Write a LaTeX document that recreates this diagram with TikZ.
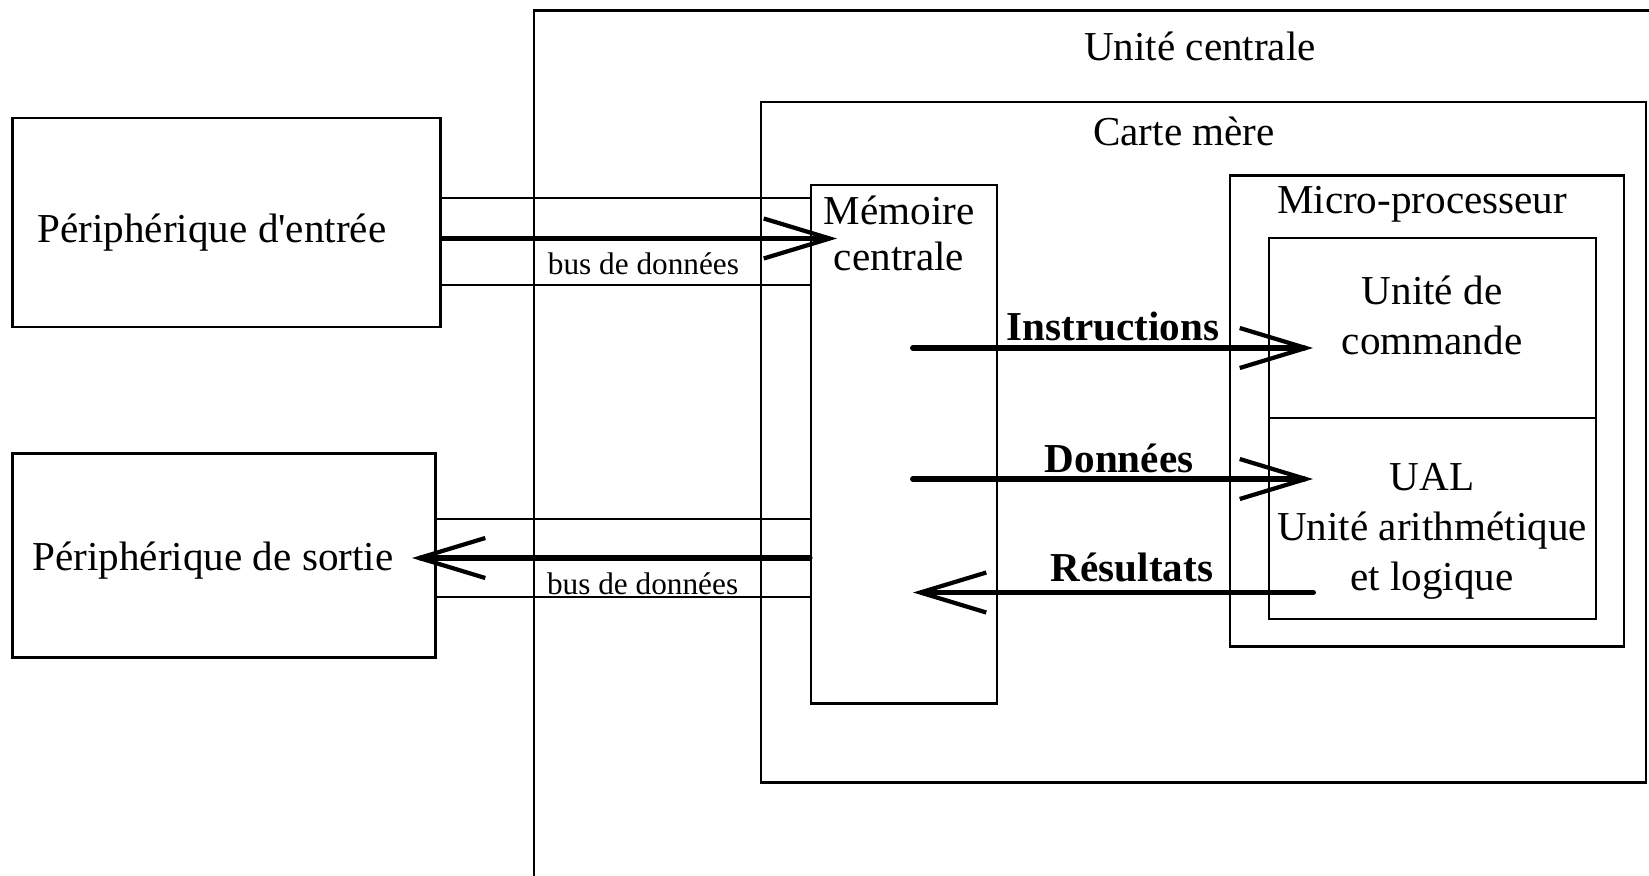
\documentclass[tikz,border=0pt]{standalone}
\usepackage{fontspec}
\setmainfont{Liberation Serif}
\usetikzlibrary{arrows.meta, positioning, calc}

\begin{document}
\begin{tikzpicture}[
  every node/.style={font=\fontsize{11.7}{14.2}\selectfont},
  box/.style={rectangle, draw, line width=0.8pt, inner sep=0pt},
  unit/.style={rectangle, draw, line width=0.6pt, inner sep=0pt},
  bus/.style={line width=0.6pt},
  flow/.style={line width=1.7pt, line cap=round, -{Straight Barb[length=6.6mm,width=4mm,line width=1.2pt]}},
  lbl/.style={inner sep=0pt, align=center},
  small/.style={font=\fontsize{8.9}{10.7}\selectfont},
  bold/.style={font=\fontsize{11.7}{14.2}\selectfont\bfseries},
]
  \useasboundingbox (0,0) rectangle (16.49,-8.75);
  \clip (0,0) rectangle (16.49,-8.75);

  % containers
  \node[box,minimum width=13.3cm,minimum height=9.395cm] (UC) at (11.99,-4.8025) {};
  \node[box,minimum width=8.85cm,minimum height=6.805cm] (CM) at (12.035,-4.4225) {};
  \node[box,minimum width=1.86cm,minimum height=5.186cm] (MEM) at (9.04,-4.443) {};
  \node[box,minimum width=3.94cm,minimum height=4.71cm] (MP) at (14.27,-4.11) {};
  \node[unit,minimum width=3.27cm,minimum height=1.80cm] (UCMD) at (14.325,-3.28) {};
  \node[unit,minimum width=3.27cm,minimum height=2.01cm] (UAL) at (14.325,-5.185) {};

  % peripheriques
  \node[box,minimum width=4.28cm,minimum height=2.09cm] (IN) at (2.266,-2.225) {};
  \node[box,minimum width=4.228cm,minimum height=2.04cm] (OUT) at (2.24,-5.553) {};

  % titles
  \node[lbl] (INtxt) at (2.12,-2.33) {Périphérique d\textquotesingle entrée};
  \node[lbl] (OUTtxt) at (2.13,-5.61) {Périphérique de sortie};
  \node[lbl] (UCtxt) at (12.00,-0.46) {Unité centrale};
  \node[lbl] (CMtxt) at (11.84,-1.315) {Carte mère};
  \node[lbl] (MPtxt) at (14.22,-2.04) {Micro-processeur};
  \node[lbl] (MEMtxt) at (8.99,-2.335) {Mémoire\\[-1pt]centrale};
  \node[lbl] (UCMDtxt) at (14.32,-3.15) {Unité de\\commande};
  \node[lbl] (UALtxt) at (14.32,-5.31) {UAL\\Unité arithmétique\\et logique};

  % bus d'entree
  \coordinate (inTip) at (8.37,-2.385);
  \draw[bus] (IN.east |- 0,-1.98) -- (MEM.west |- 0,-1.98);
  \draw[bus] (IN.east |- 0,-2.85) -- (MEM.west |- 0,-2.85);
  \draw[flow] (IN.east |- inTip) -- node[below,small,pos=0.51]{bus de données} (inTip);

  % bus de sortie
  \coordinate (outTip) at (4.12,-5.58);
  \draw[bus] (OUT.east |- 0,-5.19) -- (MEM.west |- 0,-5.19);
  \draw[bus] (OUT.east |- 0,-5.97) -- (MEM.west |- 0,-5.97);
  \draw[flow] (MEM.west |- outTip) -- node[below,small,pos=0.42]{bus de données} (outTip);

  % echanges memoire / processeur
  \coordinate (instA) at (9.13,-3.48);
  \coordinate (instB) at (13.13,-3.48);
  \coordinate (donA) at (9.13,-4.79);
  \coordinate (donB) at (13.13,-4.79);
  \coordinate (resA) at (13.13,-5.925);
  \coordinate (resB) at (9.13,-5.925);
  \draw[flow] (instA) -- node[above,bold,inner sep=1.2pt]{Instructions} (instB);
  \draw[flow] (donA) -- node[above,bold,inner sep=0.8pt,pos=0.515]{Données} (donB);
  \draw[flow] (resA) -- node[above,bold,inner sep=2pt,pos=0.4525]{Résultats} (resB);
\end{tikzpicture}
\end{document}
